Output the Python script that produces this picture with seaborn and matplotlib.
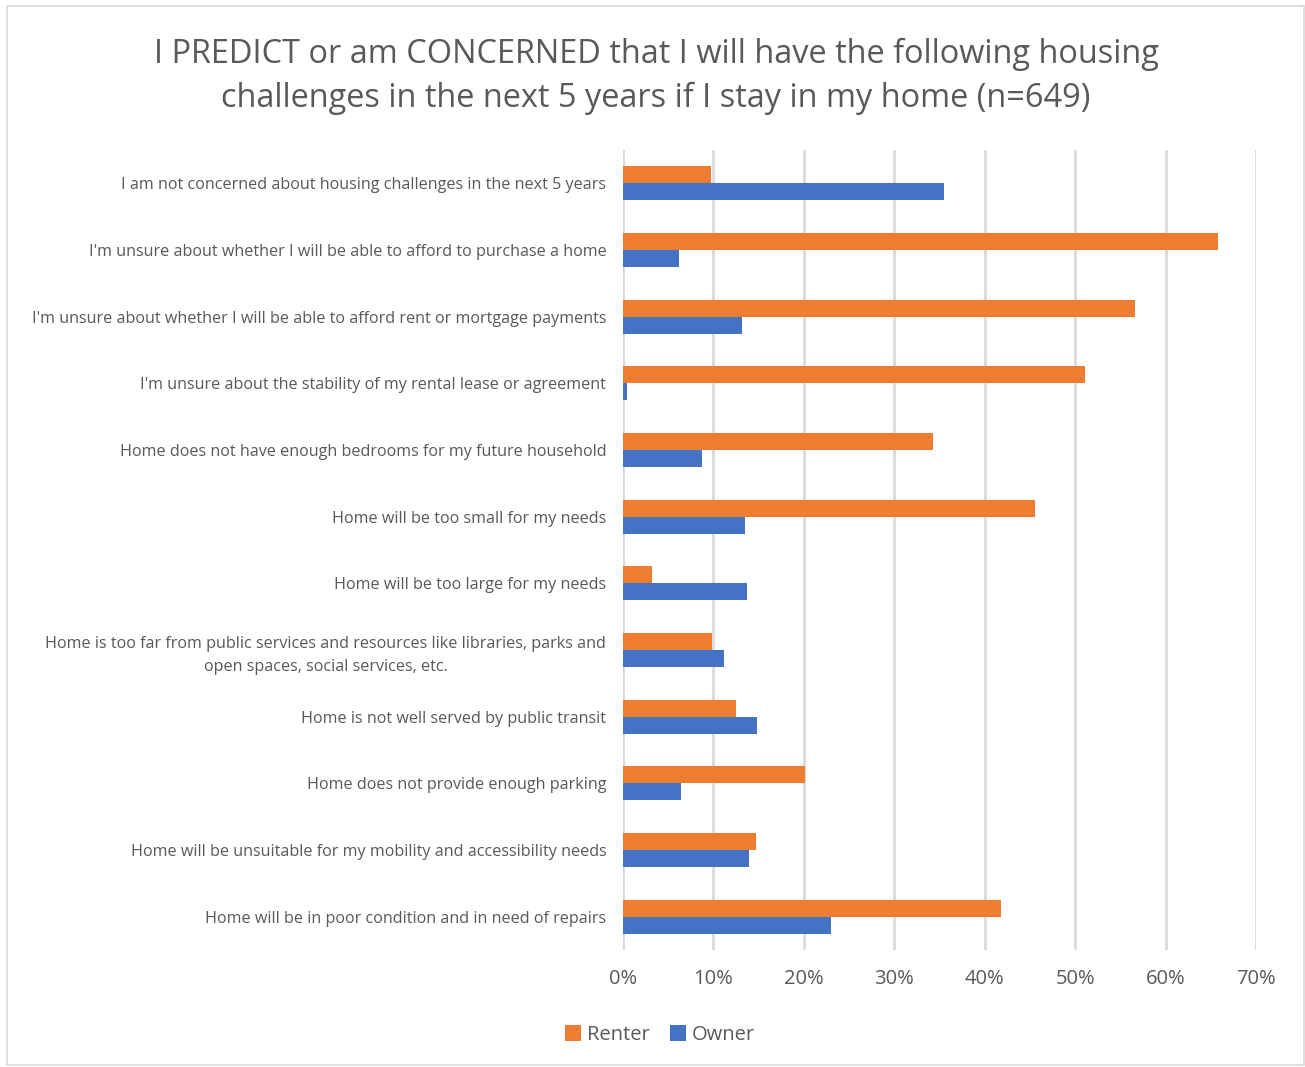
import matplotlib
matplotlib.use("Agg")
import matplotlib.pyplot as plt
import seaborn as sns
import pandas as pd
from matplotlib.patches import Rectangle, Patch
from matplotlib.ticker import FuncFormatter

categories = [
    "I am not concerned about housing challenges in the next 5 years",
    "I'm unsure about whether I will be able to afford to purchase a home",
    "I'm unsure about whether I will be able to afford rent or mortgage payments",
    "I'm unsure about the stability of my rental lease or agreement",
    "Home does not have enough bedrooms for my future household",
    "Home will be too small for my needs",
    "Home will be too large for my needs",
    "Home is too far from public services and resources like libraries, parks and\nopen spaces, social services, etc.",
    "Home is not well served by public transit",
    "Home does not provide enough parking",
    "Home will be unsuitable for my mobility and accessibility needs",
    "Home will be in poor condition and in need of repairs",
]
renter = [9.7, 65.8, 56.6, 51.1, 34.3, 45.6, 3.2, 9.8, 12.5, 20.1, 14.7, 41.8]
owner = [35.5, 6.2, 13.2, 0.4, 8.7, 13.5, 13.7, 11.2, 14.8, 6.4, 13.9, 23.0]
series = ["Renter", "Owner"]
colors = ["#ED7D31", "#4472C4"]
xticks = [0, 10, 20, 30, 40, 50, 60, 70]

df = pd.DataFrame({
    "Challenge": categories * 2,
    "Value": renter + owner,
    "Type": ["Renter"] * len(categories) + ["Owner"] * len(categories),
})

sns.set_theme(style="white")
plt.rcParams["font.family"] = ["Open Sans", "DejaVu Sans"]
text_color = "#595959"

fig = plt.figure(figsize=(13.05, 10.67), dpi=100)
ax = fig.add_axes([623 / 1305, 1 - 950 / 1067, (1256 - 623) / 1305, 800 / 1067])

sns.barplot(data=df, y="Challenge", x="Value", hue="Type", order=categories,
            hue_order=series, palette=colors, orient="h", width=0.51,
            saturation=1, ax=ax, legend=False, linewidth=0)

ax.set_xlim(0, 70)
ax.set_ylim(len(categories) - 0.5, -0.5)
ax.set_xticks(xticks)
ax.xaxis.set_major_formatter(FuncFormatter(lambda v, p: f"{int(v)}%"))
ax.grid(axis="x", color="#D9D9D9", linewidth=2)
ax.set_axisbelow(True)
for s in ax.spines.values():
    s.set_visible(False)
ax.set_xlabel("")
ax.set_ylabel("")
ax.tick_params(axis="x", length=0, labelsize=14.5, colors=text_color, pad=14)
ax.tick_params(axis="y", length=0, labelsize=11.6, colors=text_color, pad=12)
for lab in ax.get_yticklabels():
    lab.set_multialignment("center")
    lab.set_linespacing(1.55)

fig.text(656 / 1305, 1 - 76.5 / 1067,
         "I PREDICT or am CONCERNED that I will have the following housing\n"
         "challenges in the next 5 years if I stay in my home (n=649)",
         ha="center", va="center", fontsize=23.4, color=text_color, linespacing=1.45)

handles = [Patch(facecolor=c, edgecolor="none") for c in colors]
fig.legend(handles, series, loc="center", bbox_to_anchor=(660 / 1305, 1 - 1035 / 1067),
           ncol=2, frameon=False, fontsize=14.5, labelcolor=text_color,
           handlelength=0.8, handleheight=0.8, handletextpad=0.3, columnspacing=1.0)

fig.patches.append(Rectangle((7 / 1305, 2 / 1067), 1 - 8 / 1305, 1 - 8 / 1067,
                             transform=fig.transFigure, fill=False,
                             edgecolor="#D9D9D9", linewidth=1.2))

fig.savefig("out.png", dpi=100)
